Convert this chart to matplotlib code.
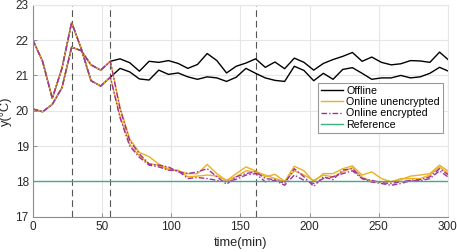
import numpy as np
import matplotlib.pyplot as plt

plt.rcParams['font.family'] = ['Liberation Sans', 'DejaVu Sans']

# tiempo de muestreo: 7 min
t = np.arange(0, 302, 7)

# tramo comun antes del cambio (t = 0 .. 49)
inicio_a = [22.0, 21.4, 20.35, 21.2, 22.5, 21.75, 20.85, 20.7]
inicio_b = [20.05, 19.97, 20.18, 20.65, 21.8, 21.7, 21.3, 21.15]

# desde t = 56 hasta el final
offline_a = [20.95, 21.2, 21.1, 20.9, 20.87, 21.15, 21.03, 21.07, 20.96, 20.89,
             20.96, 20.93, 20.83, 20.95, 21.2, 21.06, 20.93, 20.86, 20.83, 21.26,
             21.14, 20.85, 21.06, 20.89, 21.17, 21.22, 21.06, 20.89, 20.93, 20.93,
             21.0, 20.93, 20.96, 21.06, 21.23, 21.11]
offline_b = [21.4, 21.47, 21.36, 21.12, 21.4, 21.37, 21.42, 21.34, 21.2, 21.31,
             21.62, 21.42, 21.07, 21.26, 21.35, 21.47, 21.23, 21.38, 21.19, 21.49,
             21.37, 21.15, 21.34, 21.45, 21.54, 21.65, 21.4, 21.52, 21.37, 21.3,
             21.33, 21.42, 21.41, 21.37, 21.66, 21.42]
sin_cifrar_a = [20.95, 19.85, 19.05, 18.72, 18.5, 18.46, 18.32, 18.32, 18.13, 18.15,
                18.18, 18.15, 18.03, 18.13, 18.3, 18.27, 18.18, 18.08, 18.0, 18.3,
                18.18, 18.03, 18.18, 18.13, 18.27, 18.39, 18.12, 18.0, 17.99, 17.99,
                18.08, 18.08, 18.08, 18.18, 18.41, 18.2]
sin_cifrar_b = [21.4, 20.1, 19.2, 18.82, 18.7, 18.49, 18.36, 18.3, 18.22, 18.22,
                18.48, 18.22, 18.02, 18.22, 18.41, 18.3, 18.13, 18.2, 18.0, 18.43,
                18.3, 17.99, 18.22, 18.22, 18.36, 18.44, 18.18, 18.27, 18.08, 17.99,
                18.05, 18.15, 18.18, 18.22, 18.46, 18.27]
cifrado_a = [20.95, 19.8, 19.0, 18.68, 18.46, 18.41, 18.32, 18.3, 18.08, 18.11,
             18.08, 18.03, 17.99, 18.06, 18.18, 18.22, 17.99, 18.03, 17.89, 18.18,
             18.03, 17.94, 18.08, 18.13, 18.22, 18.3, 18.08, 17.98, 17.94, 17.89,
             17.94, 18.02, 18.02, 18.08, 18.3, 18.1]
cifrado_b = [21.4, 20.05, 19.15, 18.78, 18.49, 18.46, 18.41, 18.27, 18.22, 18.27,
             18.36, 18.13, 17.92, 18.13, 18.22, 18.27, 18.08, 18.05, 17.94, 18.36,
             18.13, 17.86, 18.13, 18.05, 18.32, 18.36, 18.08, 18.03, 17.96, 17.94,
             17.99, 18.03, 18.05, 18.13, 18.36, 18.17]

referencia = 18.0
eventos = [28, 56, 161]

fig = plt.figure(figsize=(4.57, 2.52), dpi=100)
ax = fig.add_axes([0.072, 0.14, 0.908, 0.841])

# lineas de eventos
for e in eventos:
    ax.axvline(e, color='#555555', lw=0.8, ls=(0, (6, 3.5)), zorder=1)

c_off, c_sin, c_cif, c_ref = 'black', '#EDB120', '#A1309B', '#3DAE86'

ax.plot(t, inicio_a + offline_a, color=c_off, lw=1.0, label='Offline')
ax.plot(t, inicio_b + offline_b, color=c_off, lw=1.0)
ax.plot(t, inicio_a + sin_cifrar_a, color=c_sin, lw=1.0, label='Online unencrypted')
ax.plot(t, inicio_b + sin_cifrar_b, color=c_sin, lw=1.0)
ax.plot(t, inicio_a + cifrado_a, color=c_cif, lw=1.0, ls=(0, (4, 1.5, 1, 1.5)),
        label='Online encrypted')
ax.plot(t, inicio_b + cifrado_b, color=c_cif, lw=1.0, ls=(0, (4, 1.5, 1, 1.5)))
ax.axhline(referencia, color=c_ref, lw=1.0, label='Reference')

ax.set_xlim(0, 300)
ax.set_ylim(17, 23)
ax.set_xticks(np.arange(0, 301, 50))
ax.set_yticks(np.arange(17, 24, 1))
ax.grid(True, color='#e6e6e6', lw=0.8)
ax.set_axisbelow(True)
ax.tick_params(direction='in', length=3, width=0.6, color='#808080',
               labelsize=8.5, labelcolor='#262626', pad=3)
for s in ['left', 'bottom']:
    ax.spines[s].set_color('#8c8c8c')
    ax.spines[s].set_linewidth(0.8)
for s in ['top', 'right']:
    ax.spines[s].set_color('#e6e6e6')
    ax.spines[s].set_linewidth(0.8)

ax.set_xlabel('time(min)', fontsize=9.3, color='#262626', labelpad=3)
ax.set_ylabel('y(°C)', fontsize=9.3, color='#262626', labelpad=2.5)

leg = ax.legend(loc='upper right', bbox_to_anchor=(0.988, 0.633), fontsize=7.7,
                handlelength=2.0, handletextpad=0.3, labelspacing=0.12,
                borderpad=0.3, borderaxespad=0, fancybox=False, framealpha=1)
leg.get_frame().set_edgecolor('#999999')
leg.get_frame().set_linewidth(0.8)

fig.savefig('out.png', dpi=100)
